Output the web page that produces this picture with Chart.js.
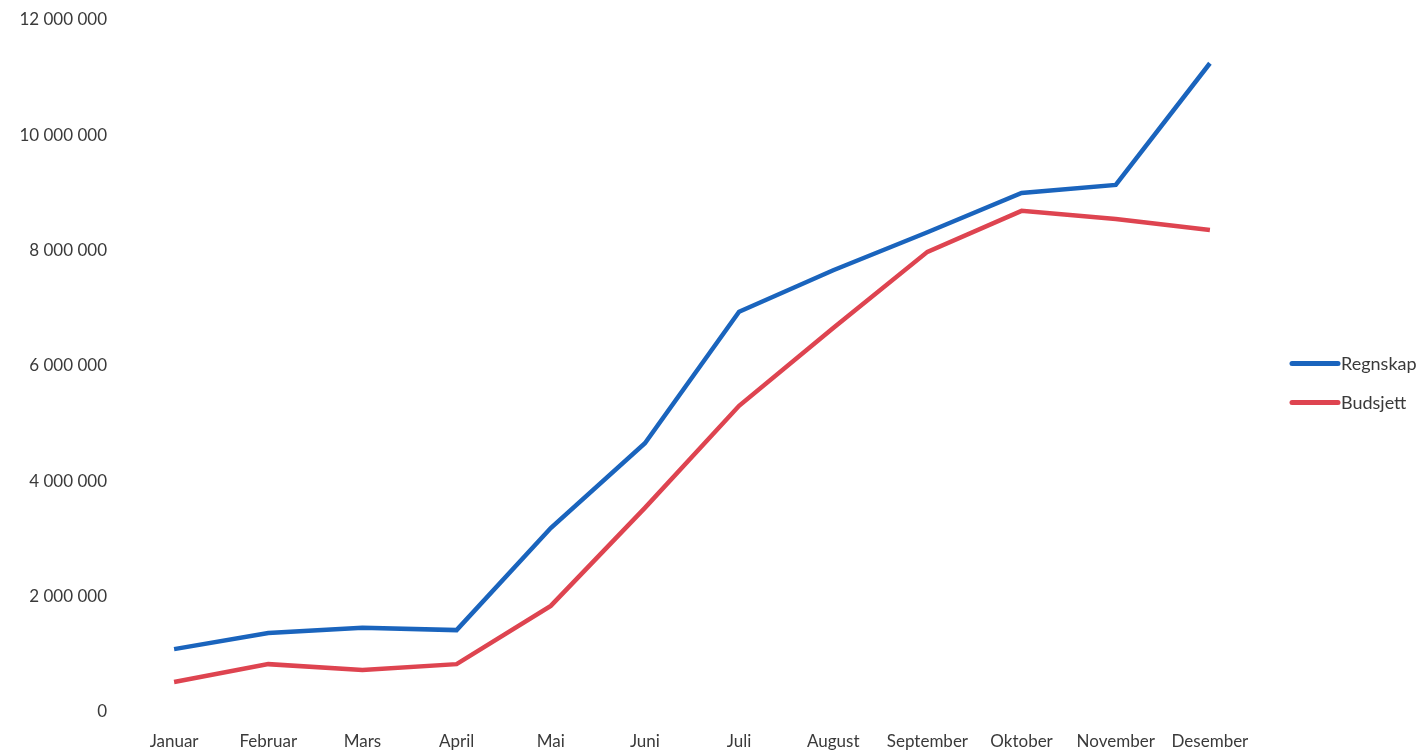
<!DOCTYPE html>
<html>
<head>
<meta charset="utf-8">
<script src="https://cdn.jsdelivr.net/npm/chart.js@4.4.1/dist/chart.umd.min.js"></script>
<style>
    html, body { margin: 0; padding: 0; background: #ffffff; }
    #wrap { width: 1423px; height: 750px; position: relative; }
</style>
</head>
<body>
<div id="wrap"><canvas id="grafico"></canvas></div>
<script>
const maaneder = ['Januar', 'Februar', 'Mars', 'April', 'Mai', 'Juni',
    'Juli', 'August', 'September', 'Oktober', 'November', 'Desember'];

const regnskap = [1090000, 1370000, 1460000, 1420000, 3190000, 4660000,
    6940000, 7660000, 8320000, 9000000, 9140000, 11250000];

const budsjett = [520000, 830000, 730000, 830000, 1840000, 3540000,
    5310000, 6660000, 7980000, 8690000, 8550000, 8360000];

const yMin = 0;
const yMax = 12000000;
const yStep = 2000000;

// tall med mellomrom som tusenskille, f.eks. 12 000 000
function formaterTall(v) {
    return String(Math.round(v)).replace(/\B(?=(\d{3})+(?!\d))/g, ' ');
}

const fontFamily = 'Lato, "Open Sans", sans-serif';
const tekstFarge = '#3a3a3a';

// egen forklaring til høyre: tykk strek og navn rett etter
const forklaring = {
    id: 'forklaring',
    afterDraw(chart) {
        const c = chart.ctx;
        const area = chart.chartArea;
        const x0 = area.right + 33;
        const linjeLengde = 50;
        const avstand = 39;
        const n = chart.data.datasets.length;
        const midt = (area.top + area.bottom) / 2 + 17;
        c.save();
        c.font = '18px ' + fontFamily;
        c.textBaseline = 'middle';
        c.textAlign = 'left';
        chart.data.datasets.forEach((ds, i) => {
            const y = midt + (i - (n - 1) / 2) * avstand;
            c.strokeStyle = ds.borderColor;
            c.lineWidth = 5;
            c.lineCap = 'round';
            c.beginPath();
            c.moveTo(x0 + 2, y);
            c.lineTo(x0 + linjeLengde - 2, y);
            c.stroke();
            c.fillStyle = tekstFarge;
            c.fillText(ds.label, x0 + linjeLengde + 1, y + 1);
        });
        c.restore();
    }
};

const ctx = document.getElementById('grafico').getContext('2d');
new Chart(ctx, {
    type: 'line',
    data: {
        labels: maaneder,
        datasets: [{
            label: 'Regnskap',
            data: regnskap,
            borderColor: '#1a64bd',
            backgroundColor: '#1a64bd',
            borderWidth: 4.5,
            pointRadius: 0,
            tension: 0
        }, {
            label: 'Budsjett',
            data: budsjett,
            borderColor: '#de4450',
            backgroundColor: '#de4450',
            borderWidth: 4.5,
            pointRadius: 0,
            tension: 0
        }]
    },
    options: {
        responsive: true,
        maintainAspectRatio: false,
        animation: false,
        layout: {
            padding: { top: 20, right: 166, bottom: 0, left: 0 }
        },
        plugins: {
            tooltip: { enabled: false },
            legend: { display: false }
        },
        scales: {
            x: {
                offset: true,
                grid: { display: false, drawTicks: false },
                border: { display: false },
                ticks: {
                    color: tekstFarge,
                    padding: 19,
                    maxRotation: 0,
                    autoSkip: false,
                    font: { family: fontFamily, size: 17 }
                },
                afterFit: (scale) => {
                    scale.height = 38;
                    scale.paddingLeft = 0;
                    scale.paddingRight = 0;
                }
            },
            y: {
                min: yMin,
                max: yMax,
                grid: { display: false, drawTicks: false },
                border: { display: false },
                ticks: {
                    stepSize: yStep,
                    color: tekstFarge,
                    padding: 20,
                    font: { family: fontFamily, size: 17 },
                    callback: (value) => formaterTall(value)
                },
                afterFit: (scale) => {
                    scale.width = 127;
                    scale.paddingTop = 0;
                    scale.paddingBottom = 0;
                }
            }
        }
    },
    plugins: [forklaring]
});
</script>
</body>
</html>
